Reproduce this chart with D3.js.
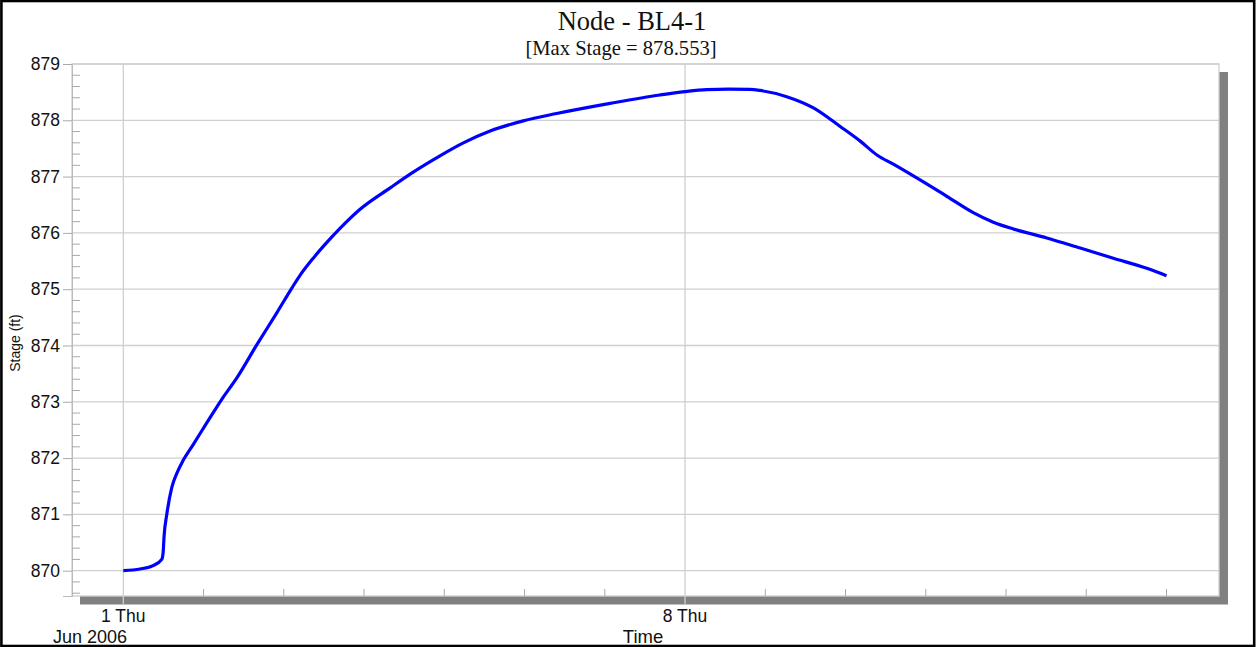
<!DOCTYPE html>
<html>
<head>
<meta charset="utf-8">
<script src="https://cdn.jsdelivr.net/npm/d3@7"></script>
<style>
  body { margin: 0; background: #fff; }
  svg text { font-family: "Liberation Sans", Arial, sans-serif; fill: #111; }
</style>
</head>
<body>
<svg id="chart" width="1257" height="647"></svg>
<script>
// hours after Jun 1 2006 00:00
const hours = [0, 5, 8.9, 11.5, 11.9, 12.2, 13.0, 14.5, 16.0, 17.9, 20.9, 24.9, 29.4, 33.9, 39.9, 45.9,
  50.4, 52.9, 56.8, 59.8, 64.8, 70.8, 79.8, 86.7, 94.7, 101.7, 109.7, 119.6, 129.6, 145.6, 160.5,
  168.0, 174.5, 181, 187.4, 190.4, 198.4, 206.4, 214.4, 220.4, 225.5, 230.3, 238.3, 246.3, 254.2,
  260.2, 266.2, 276.2, 286.2, 296.1, 306.1, 312];
// stage (ft)
const stage = [870.00, 870.03, 870.09, 870.2, 870.32, 870.62, 871.0, 871.48, 871.73, 871.96, 872.24, 872.62,
  873.04, 873.42, 874.01, 874.58, 875.02, 875.25, 875.55, 875.76, 876.08, 876.42, 876.8, 877.08,
  877.37, 877.6, 877.81, 877.99, 878.12, 878.3, 878.45, 878.51, 878.545, 878.553, 878.548, 878.53,
  878.42, 878.22, 877.89, 877.63, 877.38, 877.22, 876.94, 876.65, 876.36, 876.19, 876.07, 875.91,
  875.73, 875.55, 875.37, 875.24];
const yTicks = [870, 871, 872, 873, 874, 875, 876, 877, 878, 879];

const svg = d3.select("#chart");
const pLeft = 72, pRight = 1219, pTop = 64, pBottom = 596;
const start = new Date(2006, 5, 1);
const atHour = (h) => new Date(start.getTime() + h * 3600e3);

const x = d3.scaleTime().domain([atHour(-15.35), atHour(327.7)]).range([pLeft, pRight]);
const y = d3.scaleLinear().domain([869.55, 879]).range([pBottom, pTop]);

// frame
svg.append("rect").attr("x", 1.4).attr("y", 1).attr("width", 1252.8).attr("height", 645)
  .attr("fill", "#fff").attr("stroke", "#000").attr("stroke-width", 2.6);

// title
svg.append("text").attr("x", 632).attr("y", 30).attr("text-anchor", "middle")
  .style("font-family", "'Liberation Serif', 'Times New Roman', serif").style("font-size", "26.5px")
  .text("Node - BL4-1");
svg.append("text").attr("x", 621).attr("y", 55).attr("text-anchor", "middle")
  .style("font-family", "'Liberation Serif', 'Times New Roman', serif").style("font-size", "20.6px")
  .text("[Max Stage = 878.553]");

// shadow + plot area
svg.append("rect").attr("x", pLeft + 8).attr("y", pTop + 8)
  .attr("width", pRight - pLeft + 1).attr("height", pBottom - pTop + 0.5).attr("fill", "#808080");
svg.append("rect").attr("x", pLeft).attr("y", pTop).attr("width", pRight - pLeft).attr("height", pBottom - pTop)
  .attr("fill", "#fff").attr("stroke", "#cfcfcf").attr("stroke-width", 1.3);

// horizontal grid
svg.append("g").selectAll("line").data(yTicks).join("line")
  .attr("x1", pLeft).attr("x2", pRight).attr("y1", d => y(d)).attr("y2", d => y(d))
  .attr("stroke", "#cfcfcf").attr("stroke-width", 1.3);

// vertical grid (weekly)
const weeks = d3.timeThursday.range(atHour(0), x.domain()[1]);
svg.append("g").selectAll("line").data(weeks).join("line")
  .attr("x1", d => x(d)).attr("x2", d => x(d)).attr("y1", pTop).attr("y2", pBottom + 8)
  .attr("stroke", "#cfcfcf").attr("stroke-width", 1.3);

// y axis: major ticks outside, minor inside
const yAxis = svg.append("g").attr("transform", `translate(${pLeft},0)`)
  .call(d3.axisLeft(y).tickValues(yTicks).tickSize(9).tickPadding(3).tickFormat(d3.format("d")));
yAxis.select(".domain").attr("stroke", "#bbb");
yAxis.selectAll(".tick line").attr("stroke", "#aaa");
yAxis.selectAll("text").style("font-size", "17.5px").style("font-family", "'Liberation Sans', Arial, sans-serif");

const minorY = d3.range(8696, 8790, 2).map(v => v / 10).filter(v => Math.abs(v - Math.round(v)) > 0.01);
svg.append("g").selectAll("line").data(minorY).join("line")
  .attr("x1", pLeft).attr("x2", pLeft + 8).attr("y1", d => y(d)).attr("y2", d => y(d))
  .attr("stroke", "#aaa").attr("stroke-width", 1);

// x axis: daily ticks inside
const days = d3.timeDay.range(atHour(0), x.domain()[1]);
svg.append("g").selectAll("line").data(days.filter(d => d.getDay() !== 4)).join("line")
  .attr("x1", d => x(d)).attr("x2", d => x(d)).attr("y1", pBottom).attr("y2", pBottom - 7)
  .attr("stroke", "#aaa").attr("stroke-width", 1);

svg.append("g").selectAll("text").data(weeks).join("text")
  .attr("x", d => x(d)).attr("y", 622).attr("text-anchor", "middle")
  .style("font-size", "17.5px").text(d3.timeFormat("%-d %a"));

svg.append("text").attr("x", 53).attr("y", 643).style("font-size", "18px").text("Jun 2006");
svg.append("text").attr("x", 643).attr("y", 643).attr("text-anchor", "middle")
  .style("font-size", "18.5px").text("Time");

svg.append("text").attr("transform", "translate(20,343) rotate(-90)").attr("text-anchor", "middle")
  .style("font-size", "14px").text("Stage (ft)");

// series
const series = hours.map((h, i) => ({ t: atHour(h), v: stage[i] }));
svg.append("path").datum(series)
  .attr("fill", "none").attr("stroke", "#0000ff").attr("stroke-width", 3.2)
  .attr("stroke-linejoin", "round")
  .attr("d", d3.line().x(d => x(d.t)).y(d => y(d.v)).curve(d3.curveMonotoneX));
</script>
</body>
</html>
